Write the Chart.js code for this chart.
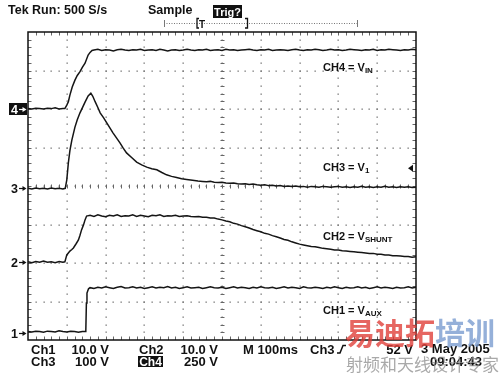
<!DOCTYPE html>
<html>
<head>
<meta charset="utf-8">
<title>Tek scope capture</title>
<script src="https://cdn.jsdelivr.net/npm/chart.js@4.4.1/dist/chart.umd.min.js"></script>
<style>
  html, body { margin: 0; padding: 0; background: #fff; }
  #scope { display: block; }
</style>
</head>
<body>
<canvas id="scope" width="500" height="373" style="width:500px;height:373px"></canvas>
<script>
// screen is 10 x 8 divisions, 100 ms/div; trace values are in divisions above the bottom edge
const xDivs = 10;
const yDivs = 8;
const msPerDiv = 100;

// ground markers (div) for ch1..ch4, trigger level on ch3 (52 V at 100 V/div)
const groundLevels = [0.19, 2.02, 3.94, 6.0];
const trigLevel = 0.52;

const ch4T = [0,10,20,30,40,50,60,70,80,90,95,100,104,108,114,121,127,134,140,147,155,160,165,
  170,180,190,200,210,220,230,240,250,260,270,280,290,300,310,320,330,340,350,360,
  370,380,390,400,410,420,430,440,450,460,470,480,490,500,510,520,530,540,550,560,
  570,580,590,600,610,620,630,640,650,660,670,680,690,700,710,720,730,740,750,760,
  770,780,790,800,810,820,830,840,850,860,870,880,890,900,910,920,930,940,950,960,
  970,980,990,1000];
const ch4V = [6.01,6.00,6.02,6.01,6.00,6.02,6.01,6.03,6.00,6.01,6.01,6.10,6.19,6.36,6.57,6.75,6.87,6.97,7.08,7.19,7.40,7.47,7.52,
  7.53,7.55,7.52,7.54,7.53,7.51,7.54,7.55,7.53,7.52,
  7.54,7.53,7.55,7.52,7.53,7.54,7.52,7.55,7.53,7.51,
  7.53,7.54,7.52,7.53,7.55,7.53,7.52,7.54,7.53,7.55,
  7.52,7.53,7.54,7.52,7.55,7.53,7.54,7.52,7.53,7.54,
  7.55,7.53,7.52,7.54,7.53,7.55,7.52,7.53,7.54,7.53,
  7.52,7.54,7.55,7.53,7.52,7.54,7.53,7.55,7.54,7.52,
  7.53,7.55,7.53,7.54,7.52,7.53,7.55,7.54,7.53,7.52,
  7.54,7.53,7.55,7.52,7.54,7.53,7.55,7.54,7.53,7.52,
  7.54,7.53,7.55,7.54];

const ch3T = [0,10,20,30,40,50,60,70,80,90,96,100,104,108,113,121,127,134,141,147,155,162,167,173,180,186,
  195,203,211,219,228,237,245,254,267,280,293,306,319,332,345,357,370,383,396,409,424,438,
  450,460,470,480,490,500,510,520,530,540,550,560,570,580,590,600,610,620,630,640,
  650,660,670,680,690,700,710,720,730,740,750,760,770,780,790,800,810,820,830,840,
  850,860,870,880,890,900,910,920,930,940,950,960,970,980,990,1000];
const ch3V = [3.94,3.92,3.95,3.93,3.94,3.92,3.95,3.93,3.94,3.92,3.94,4.16,4.60,4.92,5.19,5.53,5.72,5.90,6.05,6.18,6.34,6.41,6.33,6.19,6.04,5.90,
  5.77,5.64,5.51,5.38,5.25,5.12,4.99,4.86,4.74,4.62,4.55,4.49,4.45,4.42,4.35,4.29,4.25,4.22,4.19,4.17,4.15,4.13,
  4.12,4.11,4.12,4.10,4.09,4.10,4.08,4.07,4.08,4.06,4.05,4.06,4.04,4.05,4.03,4.02,4.03,4.01,4.02,4.00,
  4.01,3.99,4.00,3.99,4.00,3.98,3.99,3.97,3.99,3.98,3.97,3.99,3.98,3.97,3.98,3.99,3.97,3.98,3.96,3.98,
  3.97,3.99,3.97,3.98,3.96,3.98,3.97,3.99,3.97,3.98,3.96,3.98,3.97,3.98,3.96,3.97];

const ch2T = [0,10,20,30,40,50,60,70,80,90,95,100,104,108,113,117,124,130,134,138,143,147,151,
  160,170,180,190,200,210,220,230,240,250,260,270,280,290,300,310,320,330,340,350,
  360,370,380,390,400,410,420,430,440,450,
  460,470,480,490,500,510,520,530,540,550,560,570,580,590,600,610,620,630,640,650,
  660,670,680,690,700,710,720,730,740,750,760,770,780,790,800,810,820,830,840,850,
  860,870,880,890,900,910,920,930,940,950,960,970,980,990,1000];
const ch2V = [2.03,2.01,2.04,2.02,2.05,2.02,2.03,2.01,2.04,2.02,2.03,2.21,2.26,2.31,2.35,2.39,2.50,2.60,2.72,2.86,2.99,3.12,3.22,
  3.24,3.21,3.25,3.22,3.20,3.24,3.22,3.25,3.21,3.23,3.22,3.25,3.21,3.24,3.22,3.20,3.24,3.23,3.25,3.21,
  3.23,3.22,3.24,3.21,3.22,3.23,3.21,3.20,3.21,3.19,
  3.19,3.17,3.17,3.14,3.12,3.09,3.07,3.03,3.01,2.97,2.94,2.91,2.87,2.84,2.81,2.77,2.75,2.71,2.68,2.65,
  2.61,2.59,2.55,2.52,2.49,2.47,2.45,2.43,2.42,2.40,2.38,2.37,2.36,2.34,2.34,2.32,2.31,2.30,2.29,2.28,
  2.27,2.26,2.25,2.25,2.23,2.23,2.21,2.21,2.19,2.19,2.18,2.17,2.17,2.15,2.16];

const ch1T = [0,10,20,30,40,50,60,70,80,90,100,110,120,130,140,147,149,150.5,152,156,160,
  170,180,190,200,210,220,230,240,250,260,270,280,290,300,310,320,330,340,350,360,
  370,380,390,400,410,420,430,440,450,460,470,480,490,500,510,520,530,540,550,560,
  570,580,590,600,610,620,630,640,650,660,670,680,690,700,710,720,730,740,750,760,
  770,780,790,800,810,820,830,840,850,860,870,880,890,900,910,920,930,940,950,960,
  970,980,990,1000];
const ch1V = [0.22,0.21,0.23,0.22,0.20,0.23,0.22,0.21,0.24,0.22,0.21,0.23,0.22,0.20,0.22,0.22,0.23,0.96,1.22,1.33,1.36,
  1.34,1.37,1.35,1.38,1.36,1.34,1.37,1.39,1.35,1.36,
  1.38,1.35,1.37,1.34,1.36,1.38,1.35,1.37,1.36,1.39,
  1.35,1.37,1.34,1.36,1.38,1.35,1.36,1.37,1.34,1.36,
  1.38,1.36,1.35,1.37,1.34,1.36,1.38,1.35,1.37,1.36,
  1.34,1.37,1.35,1.38,1.36,1.35,1.37,1.34,1.36,1.38,
  1.35,1.37,1.36,1.34,1.38,1.36,1.35,1.37,1.36,1.34,
  1.37,1.35,1.38,1.36,1.34,1.37,1.35,1.36,1.38,1.35,
  1.37,1.34,1.36,1.38,1.35,1.37,1.36,1.34,1.37,1.35,
  1.36,1.38,1.35,1.37];

const traceLabels = [
  ['CH4 = V', 'IN', 7.0],
  ['CH3 = V', '1', 4.4],
  ['CH2 = V', 'SHUNT', 2.6],
  ['CH1 = V', 'AUX', 0.68]
];

function pts(t, v) { return t.map((x, i) => ({ x: x, y: v[i] })); }

const FONT = '"Liberation Sans", Arial, sans-serif';
function txt(ctx, s, x, y, size, opts) {
  opts = opts || {};
  ctx.font = (opts.weight || 'bold') + ' ' + size + 'px ' + (opts.family || FONT);
  ctx.fillStyle = opts.color || '#111';
  ctx.textAlign = opts.align || 'left';
  ctx.textBaseline = 'alphabetic';
  ctx.fillText(s, x, y);
  return ctx.measureText(s).width;
}

const scopeScreen = {
  id: 'scopeScreen',
  beforeDraw(chart) {
    const ctx = chart.ctx;
    ctx.save();
    ctx.fillStyle = '#fff';
    ctx.fillRect(0, 0, chart.width, chart.height);
    ctx.restore();
  },
  beforeDatasetsDraw(chart) {
    const { ctx, chartArea: a } = chart;
    const xs = chart.scales.x, ys = chart.scales.y;
    ctx.save();
    ctx.fillStyle = '#707070';
    // dotted graticule
    for (let i = 1; i < xDivs; i++) {
      const px = Math.round(xs.getPixelForValue(i * msPerDiv));
      for (let k = 1; k < yDivs * 5; k++) {
        const py = Math.round(ys.getPixelForValue(k / 5));
        ctx.fillRect(px - 0.5, py - 0.5, 1.3, 1.3);
      }
    }
    for (let j = 1; j < yDivs; j++) {
      const py = Math.round(ys.getPixelForValue(j));
      for (let k = 1; k < xDivs * 5; k++) {
        const px = Math.round(xs.getPixelForValue(k * msPerDiv / 5));
        ctx.fillRect(px - 0.5, py - 0.5, 1.3, 1.3);
      }
    }
    // centre cross ticks + border ticks
    ctx.strokeStyle = '#666';
    ctx.lineWidth = 1;
    const cx = Math.round(xs.getPixelForValue(xDivs * msPerDiv / 2)) + 0.5;
    const cy = Math.round(ys.getPixelForValue(yDivs / 2)) + 0.5;
    ctx.beginPath();
    for (let k = 1; k < yDivs * 5; k++) {
      const py = Math.round(ys.getPixelForValue(k / 5)) + 0.5;
      ctx.moveTo(cx - 2, py); ctx.lineTo(cx + 2, py);
      ctx.moveTo(a.left, py); ctx.lineTo(a.left + 3.5, py);
      ctx.moveTo(a.right, py); ctx.lineTo(a.right - 3.5, py);
    }
    for (let k = 1; k < xDivs * 5; k++) {
      const px = Math.round(xs.getPixelForValue(k * msPerDiv / 5)) + 0.5;
      ctx.moveTo(px, cy - 2); ctx.lineTo(px, cy + 2);
      ctx.moveTo(px, a.top); ctx.lineTo(px, a.top + 3.5);
      ctx.moveTo(px, a.bottom); ctx.lineTo(px, a.bottom - 3.5);
    }
    ctx.stroke();
    // screen border
    ctx.strokeStyle = '#111';
    ctx.lineWidth = 1.5;
    ctx.strokeRect(a.left, a.top, a.right - a.left, a.bottom - a.top);
    ctx.restore();
  },
  afterDraw(chart) {
    const { ctx, chartArea: a } = chart;
    const ys = chart.scales.y;
    ctx.save();

    // header
    txt(ctx, 'Tek Run: 500 S/s', 8, 14, 12.5);
    txt(ctx, 'Sample', 148, 14, 12.5);
    ctx.fillStyle = '#111';
    ctx.fillRect(213, 5, 29, 13);
    txt(ctx, 'Trig?', 227.5, 15.5, 11, { color: '#fff', align: 'center' });

    // record position bar
    ctx.strokeStyle = '#777';
    ctx.lineWidth = 1;
    ctx.setLineDash([1, 1.5]);
    ctx.beginPath(); ctx.moveTo(164, 23.5); ctx.lineTo(358, 23.5); ctx.stroke();
    ctx.setLineDash([]);
    ctx.beginPath();
    ctx.moveTo(164.5, 20); ctx.lineTo(164.5, 27);
    ctx.moveTo(357.5, 20); ctx.lineTo(357.5, 27);
    ctx.stroke();
    ctx.strokeStyle = '#111';
    ctx.lineWidth = 1.3;
    ctx.beginPath();
    ctx.moveTo(199, 18.5); ctx.lineTo(197, 18.5); ctx.lineTo(197, 28); ctx.lineTo(199, 28);
    ctx.moveTo(245, 18.5); ctx.lineTo(247.5, 18.5); ctx.lineTo(247.5, 28); ctx.lineTo(245, 28);
    ctx.stroke();
    txt(ctx, 'T', 199, 27.5, 10);

    // ground markers
    ['1', '2', '3', '4'].forEach((n, i) => {
      const py = Math.round(ys.getPixelForValue(groundLevels[i])) + 0.5;
      const inv = n === '4';
      if (inv) { ctx.fillStyle = '#111'; ctx.fillRect(9, py - 6.5, 18, 12); }
      const col = inv ? '#fff' : '#111';
      txt(ctx, n, 11, py + 4.5, 12.5, { color: col });
      ctx.strokeStyle = col; ctx.fillStyle = col; ctx.lineWidth = 1.2;
      ctx.beginPath(); ctx.moveTo(19, py); ctx.lineTo(24, py); ctx.stroke();
      ctx.beginPath(); ctx.moveTo(26.5, py); ctx.lineTo(22.5, py - 2.5); ctx.lineTo(22.5, py + 2.5); ctx.closePath(); ctx.fill();
    });

    // trigger level marker
    const ty = ys.getPixelForValue(groundLevels[2] + trigLevel);
    ctx.fillStyle = '#111';
    ctx.beginPath(); ctx.moveTo(408, ty); ctx.lineTo(413, ty - 3.5); ctx.lineTo(413, ty + 3.5); ctx.closePath(); ctx.fill();

    // trace labels
    traceLabels.forEach(([main, sub, lvl]) => {
      const py = ys.getPixelForValue(lvl);
      const w = txt(ctx, main, 323, py, 11);
      txt(ctx, sub, 323 + w, py + 2, 8);
    });

    // footer readout
    txt(ctx, 'Ch1', 31, 354, 13);
    txt(ctx, '10.0 V', 109, 354, 13, { align: 'right' });
    txt(ctx, 'Ch2', 139, 354, 13);
    txt(ctx, '10.0 V', 218, 354, 13, { align: 'right' });
    txt(ctx, 'M 100ms', 243, 354, 13);
    txt(ctx, 'Ch3', 310, 354, 13);
    ctx.strokeStyle = '#111'; ctx.lineWidth = 1.5;
    ctx.beginPath(); ctx.moveTo(337, 353); ctx.lineTo(340, 353); ctx.lineTo(343, 345.5); ctx.lineTo(346, 345.5); ctx.stroke();
    txt(ctx, '52 V', 413, 354, 13, { align: 'right' });
    txt(ctx, '3 May 2005', 421, 353, 13);
    txt(ctx, 'Ch3', 31, 366, 13);
    txt(ctx, '100 V', 109, 366, 13, { align: 'right' });
    ctx.fillStyle = '#111';
    ctx.fillRect(138, 356, 25, 11);
    txt(ctx, 'Ch4', 150.5, 366, 12, { color: '#fff', align: 'center' });
    txt(ctx, '250 V', 218, 366, 13, { align: 'right' });
    txt(ctx, '09:04:43', 430, 366, 13);

    // watermark
    const cjk = '"Noto Sans CJK SC", sans-serif';
    ctx.globalAlpha = 0.8;
    const w1 = txt(ctx, '易迪拓', 345, 344, 30, { family: cjk, color: '#e0403a' });
    txt(ctx, '培训', 345 + w1, 344, 30, { family: cjk, color: '#7a9ccf' });
    ctx.globalAlpha = 0.75;
    txt(ctx, '射频和天线设计专家', 346, 371, 17, { family: cjk, weight: 'normal', color: '#8c8c8c' });
    ctx.restore();
  }
};

const traceStyle = { borderColor: '#151515', borderWidth: 1.5, pointRadius: 0, tension: 0, fill: false };

new Chart(document.getElementById('scope'), {
  type: 'line',
  data: {
    datasets: [
      Object.assign({ label: 'CH4', data: pts(ch4T, ch4V) }, traceStyle),
      Object.assign({ label: 'CH3', data: pts(ch3T, ch3V) }, traceStyle),
      Object.assign({ label: 'CH2', data: pts(ch2T, ch2V) }, traceStyle),
      Object.assign({ label: 'CH1', data: pts(ch1T, ch1V) }, traceStyle)
    ]
  },
  options: {
    responsive: false,
    animation: false,
    devicePixelRatio: 1,
    layout: { padding: { left: 28, top: 32, right: 84, bottom: 33 } },
    scales: {
      x: { type: 'linear', min: 0, max: xDivs * msPerDiv, display: false },
      y: { type: 'linear', min: 0, max: yDivs, display: false }
    },
    plugins: { legend: { display: false }, tooltip: { enabled: false } }
  },
  plugins: [scopeScreen]
});
</script>
</body>
</html>
